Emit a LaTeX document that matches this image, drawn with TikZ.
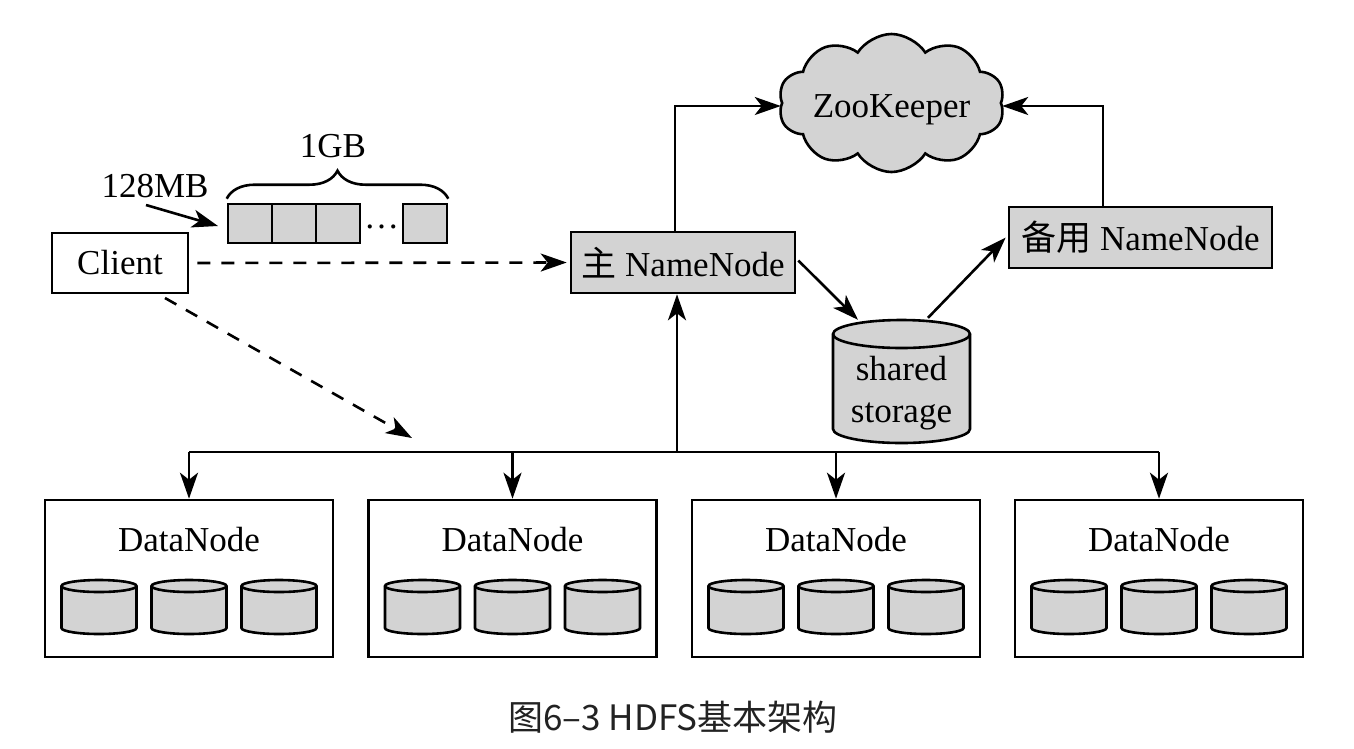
\documentclass[tikz,border=0pt]{standalone}
\usepackage{fontspec}
\setmainfont{Liberation Serif}
\newfontfamily\cjk{Noto Sans CJK SC}
\usetikzlibrary{arrows.meta,shapes.symbols,decorations.pathreplacing}
\definecolor{fillgray}{RGB}{211,211,211}
\definecolor{capcol}{RGB}{34,34,34}
\newcommand\mycyl[5]{% cx, top, bottom, rx, ry
  \filldraw[cylstyle] ({#1-#4},{#2+#5}) -- ({#1-#4},{#3-#5})
    arc[start angle=180,end angle=360,x radius=#4pt,y radius=#5pt]
    -- ({#1+#4},{#2+#5})
    arc[start angle=0,end angle=180,x radius=#4pt,y radius=#5pt] -- cycle;
  \draw[cylstyle,fill=none] ({#1-#4},{#2+#5})
    arc[start angle=180,end angle=360,x radius=#4pt,y radius=#5pt];
}
\begin{document}
\begin{tikzpicture}[x=1pt,y=-1pt,
  every node/.style={font=\fontsize{35}{42}\selectfont},
  boxw/.style={draw,line width=2.6pt,fill=white,inner sep=0pt},
  boxg/.style={draw,line width=2.6pt,fill=fillgray,inner sep=0pt},
  cylstyle/.style={draw,line width=2.6pt,fill=fillgray},
  conn/.style={line width=2.6pt},
  arr/.style={line width=2.6pt,-{Stealth[length=26pt,width=18pt,inset=7pt]}},
  darr/.style={arr,dash pattern=on 13pt off 11pt}
]
\useasboundingbox (0,0) rectangle (1354,748);

% Client and blocks
\node[boxw,minimum width=136pt,minimum height=60pt] (client) at (120,263) {Client};
\node[boxg,minimum width=44pt,minimum height=39pt] (b1) at (250,223.5) {};
\node[boxg,minimum width=44pt,minimum height=39pt] (b2) at (294,223.5) {};
\node[boxg,minimum width=44pt,minimum height=39pt] (b3) at (338,223.5) {};
\node[boxg,minimum width=44pt,minimum height=39pt] (b4) at (425,223.5) {};
\node[anchor=base,inner sep=0pt] (dots) at (381.5,228) {…};
\draw[conn,decorate,decoration={brace,amplitude=28pt}] ([yshift=4pt]b1.north west) -- ([yshift=4pt]b4.north east);
\node[inner sep=0pt] (gb) at (333,146) {1GB};
\node[inner sep=0pt] (mb) at (155,186) {128MB};
\coordinate (m0) at (146,205);
\coordinate (m1) at (218,226);
\draw[arr] (m0) -- (m1);

% NameNodes, ZooKeeper, storage
\node[boxg,minimum width=224pt,minimum height=61pt] (nn) at (683,262.5) {{\cjk 主} NameNode};
\node[boxg,minimum width=263pt,minimum height=61pt] (bk) at (1140.5,237.5) {{\cjk 备用} NameNode};
\node[cloud,cloud puffs=10,cloud puff arc=115,cloud ignores aspect,draw,line width=2.6pt,fill=fillgray,
      minimum width=226pt,minimum height=138pt,inner sep=0pt] (zk) at (891.5,103) {\raisebox{-6pt}[0.68em][0.22em]{ZooKeeper}};
\mycyl{901.5}{320}{443}{68.5}{14}
\node[inner sep=0pt,minimum width=137pt,minimum height=123pt] (st) at (901.5,381.5) {};
\node[align=center,inner sep=0pt,font=\fontsize{35}{42}\selectfont] (stt) at (901.5,393) {shared\\storage};

% DataNodes
\foreach \i/\cx in {1/189,2/512.5,3/836,4/1159}{
  \node[boxw,minimum width=288pt,minimum height=157pt] (dn\i) at (\cx,578.5) {};
  \node[inner sep=0pt] (dt\i) at (\cx,540) {DataNode};
  \mycyl{\cx-90}{580}{634}{37.5}{6}
  \mycyl{\cx}{580}{634}{37.5}{6}
  \mycyl{\cx+90}{580}{634}{37.5}{6}
}

% connectors
\draw[darr] ([xshift=8pt]client.east) -- ([xshift=-3pt]nn.west);
\coordinate (c1) at (165,298);
\coordinate (c2) at (412,438);
\draw[darr] (c1) -- (c2);
\draw[arr] ([xshift=-8pt]nn.north) |- ([yshift=-3pt]zk.west);
\draw[arr] ([xshift=-37.5pt]bk.north) |- ([yshift=-3pt]zk.east);
\draw[arr] ([xshift=2pt,yshift=2pt]nn.east) -- ([xshift=-43.5pt]st.north);
\draw[arr] ([xshift=26.5pt,yshift=2pt]st.north) -- ([xshift=-2pt]bk.west);
\coordinate (bus) at (677,452);
\draw[conn] (dn1.north |- bus) -- (dn4.north |- bus);
\draw[arr] (bus) -- (nn.south -| bus);
\foreach \i in {1,2,3,4}{ \draw[arr] (dn\i.north |- bus) -- (dn\i.north); }

% caption
\node[font=\cjk\fontsize{35}{40}\selectfont,text=capcol] (cap) at (673,717) {图6–3 HDFS基本架构};
\end{tikzpicture}
\end{document}
